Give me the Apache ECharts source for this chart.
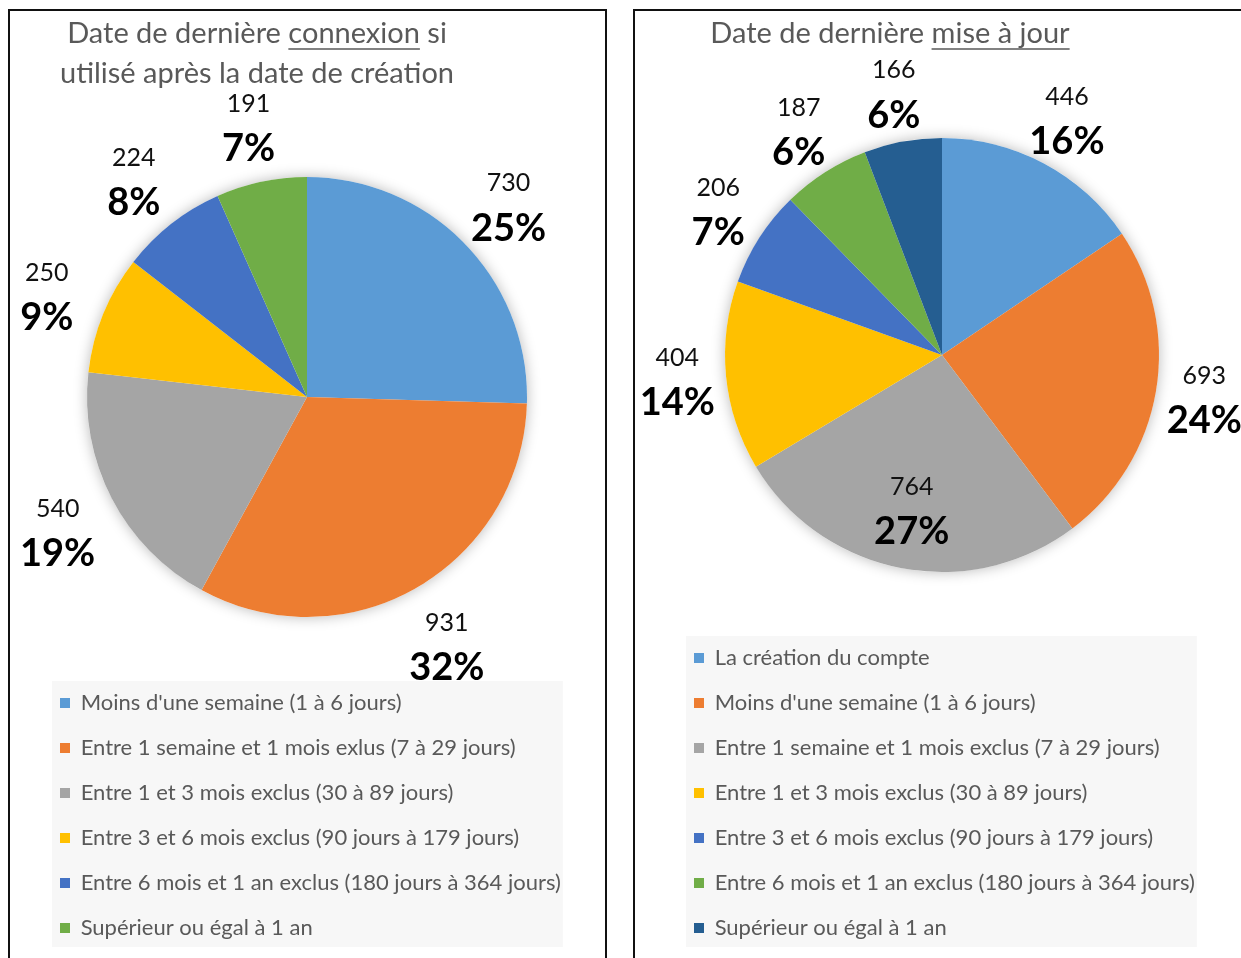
<!DOCTYPE html>
<html>
<head>
<meta charset="utf-8">
<script src="https://cdn.jsdelivr.net/npm/echarts@6/dist/echarts.min.js"></script>
<style>
    html, body { margin: 0; padding: 0; background: #fff; overflow: hidden; width: 1241px; height: 958px; }
    .panel { position: absolute; top: 9px; height: 960px; box-sizing: border-box; border: 2px solid #111; border-bottom: none; overflow: hidden; }
    #panelLeft { left: 8px; width: 599px; }
    #panelRight { left: 633px; width: 640px; }
    .chart { position: absolute; left: 0; top: 0; }
</style>
</head>
<body>
<div class="panel" id="panelLeft"><div class="chart" id="chartLeft" style="width:595px;height:949px"></div></div>
<div class="panel" id="panelRight"><div class="chart" id="chartRight" style="width:606px;height:949px"></div></div>
<script>
// --- données : dernière connexion ---
const leftTitle = ['Date de dernière connexion si', 'utilisé après la date de création'];
const leftUnderlined = 'connexion';
const leftNames = [
    "Moins d'une semaine (1 à 6 jours)",
    'Entre 1 semaine et 1 mois exlus (7 à 29 jours)',
    'Entre 1 et 3 mois exclus (30 à 89 jours)',
    'Entre 3 et 6 mois exclus (90 jours à 179 jours)',
    'Entre 6 mois et 1 an exclus (180 jours à 364 jours)',
    'Supérieur ou égal à 1 an'
];
const leftValues = [730, 931, 540, 250, 224, 191];
const leftPct = ['25%', '32%', '19%', '9%', '8%', '7%'];
const leftColors = ['#5B9BD5', '#ED7D31', '#A5A5A5', '#FFC000', '#4472C4', '#70AD47'];

// --- données : dernière mise à jour ---
const rightTitle = ['Date de dernière mise à jour'];
const rightUnderlined = 'mise à jour';
const rightNames = [
    'La création du compte',
    "Moins d'une semaine (1 à 6 jours)",
    'Entre 1 semaine et 1 mois exclus (7 à 29 jours)',
    'Entre 1 et 3 mois exclus (30 à 89 jours)',
    'Entre 3 et 6 mois exclus (90 jours à 179 jours)',
    'Entre 6 mois et 1 an exclus (180 jours à 364 jours)',
    'Supérieur ou égal à 1 an'
];
const rightValues = [446, 693, 764, 404, 206, 187, 166];
const rightPct = ['16%', '24%', '27%', '14%', '7%', '6%', '6%'];
const rightColors = ['#5B9BD5', '#ED7D31', '#A5A5A5', '#FFC000', '#4472C4', '#70AD47', '#255E91'];
const rightInsideIdx = 2; // étiquette placée dans la part

const FONT = 'Lato, "Noto Sans", sans-serif';
const TXT = '#595959';
const TITLE_SIZE = 29;

const measureCtx = document.createElement('canvas').getContext('2d');

/**
 * Soulignement d'un mot dans une ligne de titre centrée
 */
function underline(cx, y, line, word, size) {
    measureCtx.font = size + 'px ' + FONT;
    const w = measureCtx.measureText(line).width;
    const x0 = cx - w / 2 + measureCtx.measureText(line.slice(0, line.indexOf(word))).width;
    const x1 = x0 + measureCtx.measureText(word).width;
    return {
        type: 'line', silent: true,
        shape: { x1: x0, y1: y, x2: x1, y2: y },
        style: { stroke: TXT, lineWidth: 1.5 }
    };
}

function labelRich(shift) {
    return {
        s: { fontSize: 10, lineHeight: shift * 2 },
        v: { fontFamily: FONT, fontSize: 25, color: '#111', lineHeight: 38 },
        p: { fontFamily: FONT, fontSize: 38, fontWeight: 'bold', color: '#000', lineHeight: 52 }
    };
}

function buildOption(cfg) {
    const total = cfg.values.reduce((a, b) => a + b, 0);
    const fmt = p => `{s| }\n{v|${cfg.values[p.dataIndex]}}\n{p|${cfg.pct[p.dataIndex]}}`;
    const rich = labelRich(cfg.labelShift);
    const series = [
        // halo doux sous le camembert
        {
            type: 'pie', silent: true, center: cfg.center, radius: cfg.r,
            data: [{ value: total, name: '_fond' }],
            label: { show: false }, labelLine: { show: false },
            itemStyle: { color: '#fff', shadowBlur: 14, shadowColor: 'rgba(0,0,0,0.28)' }
        },
        {
            type: 'pie', center: cfg.center, radius: cfg.r, startAngle: 90,
            data: cfg.values.map((v, i) => ({ value: v, name: cfg.names[i], itemStyle: { color: cfg.colors[i] } })),
            label: { show: false }, labelLine: { show: false },
            emphasis: { scale: false }
        },
        // anneau invisible qui porte les étiquettes
        {
            type: 'pie', silent: true, center: cfg.center, radius: cfg.labelRing, startAngle: 90,
            data: cfg.values.map((v, i) => ({
                value: v, name: cfg.names[i],
                label: { show: i !== cfg.insideIdx }
            })),
            itemStyle: { color: 'rgba(0,0,0,0)' },
            label: { position: 'inside', formatter: fmt, rich: rich },
            labelLine: { show: false }
        }
    ];
    if (cfg.insideIdx != null) {
        series.push({
            type: 'pie', silent: true, center: cfg.center, radius: cfg.insideRing, startAngle: 90,
            data: cfg.values.map((v, i) => ({
                value: v, name: cfg.names[i],
                label: { show: i === cfg.insideIdx }
            })),
            itemStyle: { color: 'rgba(0,0,0,0)' },
            label: { position: 'inside', formatter: fmt, rich: rich },
            labelLine: { show: false }
        });
    }
    return {
        animation: false,
        title: {
            text: cfg.title.join('\n'),
            left: cfg.titleX, top: 3, textAlign: 'center', padding: 0,
            textStyle: { fontFamily: FONT, fontSize: TITLE_SIZE, fontWeight: 'normal', color: TXT, lineHeight: 40 }
        },
        legend: {
            orient: 'vertical', left: cfg.legendPos[0], top: cfg.legendPos[1],
            icon: 'rect', itemWidth: 10, itemHeight: 10, itemGap: 21,
            backgroundColor: '#f7f7f7', padding: [10, 2, 7, 8],
            textStyle: { fontFamily: FONT, fontSize: 22, color: TXT, lineHeight: 24 },
            formatter: n => ' ' + n,
            data: cfg.names,
            selectedMode: false
        },
        graphic: [underline(cfg.titleX, 38, cfg.title[0], cfg.underlined, TITLE_SIZE)],
        series: series
    };
}

const chartLeft = echarts.init(document.getElementById('chartLeft'));
chartLeft.setOption(buildOption({
    title: leftTitle, underlined: leftUnderlined, titleX: 247,
    names: leftNames, values: leftValues, pct: leftPct, colors: leftColors,
    center: [297, 386], r: 220, labelRing: [271, 285], labelShift: 8,
    legendPos: [42, 670]
}));

const chartRight = echarts.init(document.getElementById('chartRight'));
chartRight.setOption(buildOption({
    title: rightTitle, underlined: rightUnderlined, titleX: 255,
    names: rightNames, values: rightValues, pct: rightPct, colors: rightColors,
    center: [307, 344], r: 217, labelRing: [256, 270], labelShift: 3,
    insideIdx: rightInsideIdx, insideRing: [150, 160],
    legendPos: [51, 625]
}));
</script>
</body>
</html>
